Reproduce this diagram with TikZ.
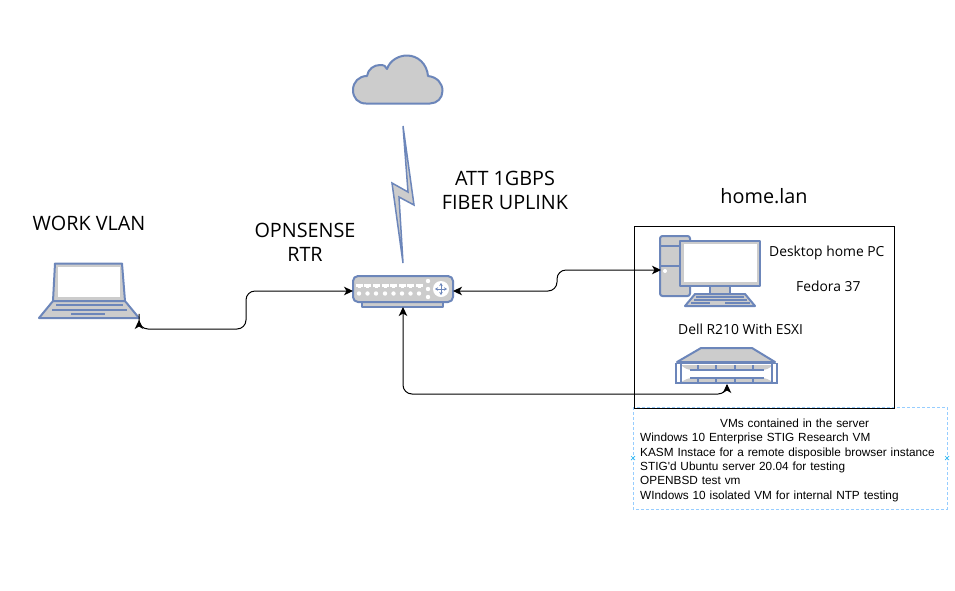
\documentclass[tikz,border=0pt]{standalone}
\usepackage{fontspec}
\setmainfont{Open Sans}
\newfontfamily\listfont{Liberation Sans}
\usetikzlibrary{arrows.meta}
\definecolor{iconblue}{HTML}{6C86BA}
\definecolor{icongrey}{HTML}{CCCCCC}
\definecolor{vmframeblue}{RGB}{150,205,255}
\definecolor{handleblue}{HTML}{29B6F2}
\tikzset{
  icon/.style={draw=iconblue,fill=icongrey,line width=2pt,line join=round},
  stroke/.style={draw=iconblue,line width=1.8pt},
  anchorbox/.style={inner sep=0pt,outer sep=0pt,draw=none},
  biglabel/.style={inner sep=0pt,align=center,font=\fontsize{19.8}{24}\selectfont},
  midlabel/.style={inner sep=0pt,font=\fontsize{13.85}{16}\selectfont},
  link/.style={draw=black,line width=1pt,rounded corners=9pt,
    {Stealth[length=9pt,width=8.5pt,inset=2.5pt]}-{Stealth[length=9pt,width=8.5pt,inset=2.5pt]}},
  handle/.style={draw=handleblue,line width=0.7pt},
}
\begin{document}
\begin{tikzpicture}[x=1pt,y=-1pt]
\useasboundingbox (0,0) rectangle (955,590);
\fill[white] (0,0) rectangle (955,590);

% VM list frame
\node[anchorbox,minimum width=314pt,minimum height=102pt] (vmbox) at (790,458) {};
\draw[vmframeblue,line width=1pt,dash pattern=on 3pt off 2pt] (vmbox.north west) rectangle (vmbox.south east);

% home.lan frame
\node[draw=black,line width=0.8pt,inner sep=0pt,minimum width=260pt,minimum height=182pt] (homebox) at (764,317) {};

% cloud
\draw[icon] (366,103.5)
  .. controls (358,103.5) and (353,98) .. (353,90)
  .. controls (353,82) and (359,76) .. (367,76)
  .. controls (368,69) and (374,65) .. (380,65)
  .. controls (384,65) and (386,66) .. (387,69)
  .. controls (390,60) and (399,55.5) .. (407,55.5)
  .. controls (418,55.5) and (427,64) .. (428,76)
  .. controls (437,77) and (442.5,83) .. (442.5,91)
  .. controls (442.5,98) and (437,103.5) .. (430,103.5) -- cycle;
\node[anchorbox,minimum width=90pt,minimum height=49pt] (cloud) at (398,80) {};

% lightning
\draw[icon,line width=1.5pt,line join=miter] (403,126) -- (408,192) -- (392,183) -- (403,263) -- (399,197) -- (414,205) -- cycle;

% laptop
\draw[icon] (55,263.5) -- (122,263.5) -- (125,301) -- (53,301) -- cycle;
\fill[white] (57.5,266.5) rectangle (119.5,297);
\draw[icon] (53,301) -- (125,301) -- (139,318) -- (39,318) -- cycle;
\draw[stroke] (56,305) -- (123,305) (52,310) -- (127,310) (71,314) -- (105,314);
\node[anchorbox,minimum width=100pt,minimum height=57pt] (laptop) at (89,291.5) {};

% router
\draw[icon] (362,302) rectangle (443,306.5);
\draw[icon,rounded corners=5pt] (353,276) rectangle (453,302);
\foreach \px in {359,367.5,376,385,393.5,402,410.5,419}{
  \fill[white] (\px-3.5,284) rectangle (\px+3.5,286.5);
  \fill[white] (\px-1.5,286) rectangle (\px+1.5,288);
  \fill[white] (\px,293.5) circle (2.2pt);
}
\foreach \py in {281,289,297}{\fill[white] (428,\py) circle (2.2pt);}
\fill[white] (441,289) circle (8pt);
\foreach \dx/\dy in {0/-6,0/6,-6/0,6/0}{
  \draw[iconblue,line width=0.9pt,-{Stealth[length=3pt,width=3.5pt]}] (441,289) -- ++(\dx,\dy);
}
\node[anchorbox,minimum width=100pt,minimum height=32pt] (router) at (403,291) {};

% desktop
\draw[icon,rounded corners=2.5pt] (660,236) rectangle (690,296);
\draw[stroke] (660,246) -- (690,246) (660,266) -- (690,266);
\fill[white] (665,271) circle (2pt);
\draw[icon] (710,286) rectangle (730,294);
\draw[icon] (680,241) rectangle (760,286);
\fill[white] (683.5,243.5) rectangle (757,282);
\draw[icon] (695,294) -- (745,294) -- (755,306) -- (685,306) -- cycle;
\draw[iconblue,line width=1.2pt] (696,297) -- (744,297) (694,300) -- (747,300) (691,303) -- (710,303) (725,303) -- (750,303);
\node[anchorbox,minimum width=99pt,minimum height=72pt] (desktop) at (710.5,270) {};

% server
\draw[icon] (701,348) -- (752,348) -- (775,362) -- (677,362) -- cycle;
\fill[icongrey] (681,365) -- (773,365) .. controls (770,368) and (766,370) .. (762,370) -- (692,370) .. controls (688,370) and (684,368) .. (681,365) -- cycle;
\fill[icongrey] (692,378) -- (762,378) .. controls (766,378) and (770,380) .. (774,383) -- (680,383) .. controls (684,380) and (688,378) .. (692,378) -- cycle;
\draw[stroke] (676,363.5) rectangle (777,383);
\draw[stroke] (681,363.5) -- (681,383) (772,363.5) -- (772,383);
\draw[iconblue,line width=1.2pt] (698,365) -- (698,370) (698,378) -- (698,383) (716,365) -- (716,370) (716,378) -- (716,383)
  (735,365) -- (735,370) (735,378) -- (735,383) (753,365) -- (753,370) (753,378) -- (753,383)
  (690,370) -- (764,370) (690,378) -- (764,378);
\node[anchorbox,minimum width=103pt,minimum height=37pt] (server) at (727,365.5) {};

% labels
\node[biglabel] (worklabel) at (89,223) {WORK VLAN};
\node[biglabel] (rtrlabel) at (305,242) {OPNSENSE\\RTR};
\node[biglabel] (attlabel) at (505,190) {ATT 1GBPS\\FIBER UPLINK};
\node[biglabel] (homelabel) at (764,196) {home.lan};
\node[midlabel,anchor=west] (pclabel) at (769,253) {Desktop home PC};
\node[midlabel,anchor=west] (fedlabel) at (796,286) {Fedora 37};
\node[midlabel,anchor=west] (delllabel) at (678,329) {Dell R210 With ESXI};

% VM list
\node[inner sep=0pt,anchor=north west,text width=310pt,align=left,font=\listfont\fontsize{11.8}{14.4}\selectfont] (vmtext) at (640,418.5)
  {\hspace*{80pt}VMs contained in the server\\
   Windows 10 Enterprise STIG Research VM\\
   KASM Instace for a remote disposible browser instance\\
   STIG'd Ubuntu server 20.04 for testing\\
   OPENBSD test vm\\
   WIndows 10 isolated VM for internal NTP testing};
\draw[handle] (vmbox.west) +(-2,-2) -- +(2,2) +(-2,2) -- +(2,-2);
\draw[handle] (vmbox.east) +(-2,-2) -- +(2,2) +(-2,2) -- +(2,-2);

% connectors
\coordinate (bendA) at (246,329);
\coordinate (bendB) at (557,270);
\coordinate (bendC) at (727,394);
\draw[link] (laptop.south east) |- (bendA) |- (router.west);
\draw[link] (router.east) -| (bendB) -- (desktop.west);
\draw[link] (router.south) |- (bendC) -- (server.south);
\end{tikzpicture}
\end{document}
